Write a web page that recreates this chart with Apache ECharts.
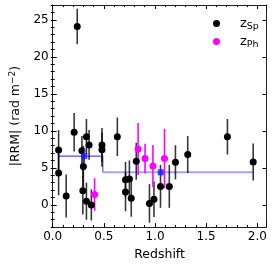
<!DOCTYPE html>
<html><head><meta charset="utf-8">
<script src="https://cdn.jsdelivr.net/npm/echarts@6/dist/echarts.min.js"></script>
<style>html,body{margin:0;padding:0;background:#fff}#c{width:274px;height:266px}</style>
</head><body><div id="c"></div>
<script>
// spectroscopic redshift sources
const spZ   = [0.058, 0.058, 0.132, 0.21, 0.24, 0.286, 0.300, 0.295, 0.33, 0.33, 0.356, 0.378, 0.482, 0.482, 0.632, 0.712, 0.712, 0.75, 0.768, 0.817, 0.946, 0.99, 1.054, 1.14, 1.20, 1.32, 1.708, 1.96];
const spRRM = [7.4, 4.3, 1.2, 9.8, 24.1, 7.3, 5.2, 1.9, 9.2, 0.5, 8.1, 0.0, 8.1, 7.45, 9.2, 3.4, 1.75, 3.5, 0.9, 5.9, 0.2, 0.75, 2.5, 2.5, 5.75, 6.8, 9.2, 5.8];
const spErr = [2.7, 3.0, 2.9, 2.6, 2.4, 2.0, 2.8, 3.2, 2.4, 2.5, 2.0, 2.1, 2.3, 2.3, 2.6, 2.4, 2.6, 2.5, 2.5, 2.5, 2.6, 2.4, 2.9, 2.9, 2.3, 2.5, 2.4, 2.5];
// photometric redshift sources
const phZ   = [0.41, 0.835, 0.903, 0.98, 1.093];
const phRRM = [1.4, 7.55, 6.25, 5.25, 6.25];
const phErr = [2.2, 3.5, 2.0, 2.85, 4.0];
// binned means
const binZ     = [0.31, 1.056];
const binRRM   = [6.6, 4.4];
const binErr   = [1.0, 0.6];
const binEdges = [0.058, 0.49, 1.96];
// ticks
const yMajorTicks = [0, 5, 10, 15, 20, 25];

const FONT = 'DejaVu Sans';
const zip3 = (a, b, c) => a.map((v, i) => [v, b[i], c[i]]);
const spData = zip3(spZ, spRRM, spErr);
const phData = zip3(phZ, phRRM, phErr);
const binData = zip3(binZ, binRRM, binErr);

function errBar(color, width) {
  return function (params, api) {
    const x = api.value(0), y = api.value(1), e = api.value(2);
    const p1 = api.coord([x, y - e]);
    const p2 = api.coord([x, y + e]);
    return { type: 'line', shape: { x1: p1[0], y1: p1[1], x2: p2[0], y2: p2[1] },
             style: { stroke: color, lineWidth: width } };
  };
}

const X_MIN = 0, X_MAX = 2.09, Y_MIN = -3, Y_MAX = 27;
const tickCol = '#000', spineCol = '#222';

const xMajorBase = { type: 'value', min: X_MIN, max: X_MAX, interval: 0.5,
  splitLine: { show: false },
  axisLine: { show: true, onZero: false, lineStyle: { color: spineCol, width: 1 } },
  axisTick: { show: true, inside: true, length: 4, lineStyle: { color: tickCol } },
  minorTick: { show: true, splitNumber: 5, length: 2, lineStyle: { color: tickCol } } };

const chart = echarts.init(document.getElementById('c'));
chart.setOption({
  animation: false,
  backgroundColor: '#fff',
  grid: { left: 40, right: 7.5, top: 5, bottom: 33, containLabel: false },
  legend: {
    orient: 'vertical', left: 208, top: 12, itemWidth: 7, itemHeight: 7, itemGap: 3,
    selectedMode: false,
    data: [{ name: 'zSp', icon: 'circle' }, { name: 'zPh', icon: 'circle' }],
    formatter: n => n === 'zSp' ? '{z|z}{s|Sp}' : '{z|z}{s|Ph}',
    textStyle: { padding: [0, 0, 0, 15], color: '#000', fontFamily: FONT,
      rich: { z: { fontSize: 13, fontFamily: FONT, color: '#000', lineHeight: 17, verticalAlign: 'middle' },
              s: { fontSize: 9.5, fontFamily: FONT, color: '#000', verticalAlign: 'bottom', padding: [0, 0, 0, 0] } } }
  },
  xAxis: [
    Object.assign({}, xMajorBase, { position: 'bottom',
      axisLabel: { show: true, margin: 4, fontSize: 12, fontFamily: FONT, color: '#000',
        formatter: v => v.toFixed(1) },
      name: 'Redshift', nameLocation: 'middle', nameGap: 18,
      nameTextStyle: { fontSize: 12.5, fontFamily: FONT, color: '#000', verticalAlign: 'top' } }),
    Object.assign({}, xMajorBase, { position: 'top', axisLabel: { show: false } })
  ],
  yAxis: [
    { type: 'value', min: Y_MIN, max: Y_MAX, position: 'left',
      splitLine: { show: false },
      axisLine: { show: true, onZero: false, lineStyle: { color: spineCol, width: 1 } },
      axisTick: { show: true, inside: true, length: 4, customValues: yMajorTicks, lineStyle: { color: tickCol } },
      axisLabel: { show: true, margin: 4, fontSize: 12, fontFamily: FONT, color: '#000', customValues: yMajorTicks },
      name: '{a||RRM| (rad m}{b|−2}{a|)}', nameLocation: 'middle', nameGap: 25, nameRotate: 90,
      nameTextStyle: { fontSize: 12.5, fontFamily: FONT, color: '#000',
        rich: { a: { fontSize: 12.5, fontFamily: FONT, color: '#000', lineHeight: 16 },
                b: { fontSize: 9, fontFamily: FONT, color: '#000', verticalAlign: 'top', lineHeight: 16 } } } },
    { type: 'value', min: Y_MIN, max: Y_MAX, interval: 1, position: 'left',
      splitLine: { show: false }, axisLine: { show: false },
      axisTick: { show: true, inside: true, length: 2, lineStyle: { color: tickCol } },
      axisLabel: { show: false } },
    { type: 'value', min: Y_MIN, max: Y_MAX, position: 'right',
      splitLine: { show: false },
      axisLine: { show: true, onZero: false, lineStyle: { color: spineCol, width: 1 } },
      axisTick: { show: true, inside: true, length: 4, customValues: yMajorTicks, lineStyle: { color: tickCol } },
      axisLabel: { show: false, customValues: yMajorTicks } },
    { type: 'value', min: Y_MIN, max: Y_MAX, interval: 1, position: 'right',
      splitLine: { show: false }, axisLine: { show: false },
      axisTick: { show: true, inside: true, length: 2, lineStyle: { color: tickCol } },
      axisLabel: { show: false } }
  ],
  series: [
    { type: 'line', name: 'bin1', data: [[binEdges[0], binRRM[0]], [binEdges[1], binRRM[0]], [binEdges[1], binRRM[1]]],
      symbol: 'none', lineStyle: { color: '#4d4dff', width: 1.2 }, z: 1, silent: true },
    { type: 'line', name: 'bin2', data: [[binEdges[1], binRRM[1]], [binEdges[2], binRRM[1]]],
      symbol: 'none', lineStyle: { color: '#a3a3ff', width: 2 }, z: 1, silent: true },
    { type: 'custom', name: 'spErr', data: spData, renderItem: errBar('rgba(0,0,0,0.78)', 1.6),
      encode: { x: 0, y: 1 }, z: 2, silent: true },
    { type: 'custom', name: 'phErr', data: phData, renderItem: errBar('#ff00ff', 1.6),
      encode: { x: 0, y: 1 }, z: 2, silent: true },
    { type: 'scatter', name: 'zSp', data: spData.map(d => [d[0], d[1]]), symbol: 'circle', symbolSize: 7,
      itemStyle: { color: '#000', opacity: 1 }, z: 3 },
    { type: 'scatter', name: 'zPh', data: phData.map(d => [d[0], d[1]]), symbol: 'circle', symbolSize: 7,
      itemStyle: { color: '#ff00ff', opacity: 1 }, z: 3 },
    { type: 'custom', name: 'binErr', data: binData, renderItem: errBar('#2b2bff', 1.2),
      encode: { x: 0, y: 1 }, z: 4, silent: true },
    { type: 'scatter', name: 'bin', data: binData.map(d => [d[0], d[1]]), symbol: 'rect', symbolSize: 6,
      itemStyle: { color: '#1a1aff' }, z: 5 }
  ]
});
</script></body></html>
